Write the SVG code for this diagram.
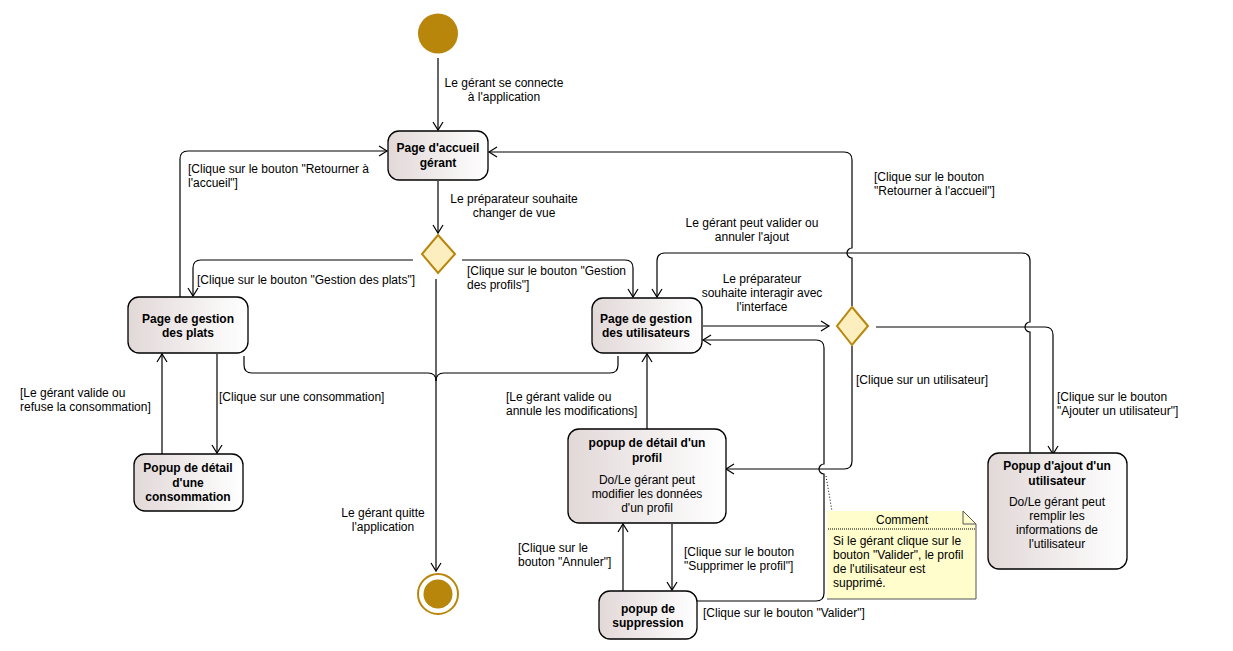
<svg xmlns="http://www.w3.org/2000/svg" width="1233" height="651" viewBox="0 0 1233 651">
<defs>
<linearGradient id="g" x1="0" y1="0" x2="1" y2="0">
<stop offset="0" stop-color="#e2d8d8"/>
<stop offset="1" stop-color="#ffffff"/>
</linearGradient>
<marker id="a" markerUnits="userSpaceOnUse" markerWidth="12" markerHeight="12" viewBox="-10 -6 12 12" refX="0" refY="0" orient="auto">
<path d="M-8,-5 L0,0 L-8,5" fill="none" stroke="#000" stroke-width="1.2"/>
</marker>
</defs>
<style>
text{font-family:"Liberation Sans",Arial,sans-serif;font-size:12px;fill:#000}
.b{font-weight:bold}
.m{text-anchor:middle}
.box{fill:url(#g);stroke:#000;stroke-width:1.3}
.dia{fill:#fdeebf;stroke:#b8860b;stroke-width:2}
.c{fill:none;stroke:#000;stroke-width:1.2}
.ar{marker-end:url(#a)}
</style>
<rect width="1233" height="651" fill="#fff"/>

<g id="connectors">
<path class="c ar" d="M438,58 V130"/>
<path class="c ar" d="M438,181 V233"/>
<path class="c ar" d="M413,260 H201 Q193,260 193,268 V296"/>
<path class="c ar" d="M462,260 H625 Q633,260 633,268 V297"/>
<path class="c ar" d="M436,279 V571"/>
<path class="c" d="M244,356 V365 Q244,373 252,373 H428 Q436,373 436,381"/>
<path class="c" d="M618,356 V365 Q618,373 610,373 H444 Q436,373 436,381"/>
<path class="c ar" d="M180,297 V159 Q180,151 188,151 H387"/>
<path class="c ar" d="M852,306 V258 A5,5 0 0 1 852,248 V160 Q852,152 844,152 H489"/>
<path class="c ar" d="M1030,453 V332 A5,5 0 0 1 1030,322 V261 Q1030,253 1022,253 H665 Q657,253 657,261 V297"/>
<path class="c ar" d="M703,326 H829"/>
<path class="c ar" d="M876,327 H1045 Q1053,327 1053,335 V454"/>
<path class="c ar" d="M852,346 V461 Q852,469 844,469 H726"/>
<path class="c ar" d="M697,601 H816 Q824,601 824,593 V474 A5,5 0 0 1 824,464 V348 Q824,340 816,340 H703"/>
<path class="c ar" d="M647,429 V354"/>
<path class="c ar" d="M672,524 V590"/>
<path class="c ar" d="M623,591 V524"/>
<path class="c ar" d="M217,354 V453"/>
<path class="c ar" d="M162,454 V354"/>
<path d="M826,476 L832,511" fill="none" stroke="#000" stroke-width="1" stroke-dasharray="1,2"/>
</g>

<g id="labels">
<text x="504" y="87" class="m">Le gérant se connecte</text>
<text x="504" y="101" class="m">à l'application</text>
<text x="514" y="203" class="m">Le préparateur souhaite</text>
<text x="514" y="217" class="m">changer de vue</text>
<text x="188" y="173">[Clique sur le bouton "Retourner à</text>
<text x="188" y="187">l'accueil"]</text>
<text x="197" y="284">[Clique sur le bouton "Gestion des plats"]</text>
<text x="467" y="275">[Clique sur le bouton "Gestion</text>
<text x="467" y="289">des profils"]</text>
<text x="752" y="227" class="m">Le gérant peut valider ou</text>
<text x="752" y="241" class="m">annuler l'ajout</text>
<text x="762" y="283" class="m">Le préparateur</text>
<text x="762" y="297" class="m">souhaite interagir avec</text>
<text x="762" y="311" class="m">l'interface</text>
<text x="874" y="181">[Clique sur le bouton</text>
<text x="874" y="195">"Retourner à l'accueil"]</text>
<text x="856" y="384">[Clique sur un utilisateur]</text>
<text x="1057" y="401">[Clique sur le bouton</text>
<text x="1057" y="415">"Ajouter un utilisateur"]</text>
<text x="506" y="401">[Le gérant valide ou</text>
<text x="506" y="415">annule les modifications]</text>
<text x="518" y="552">[Clique sur le</text>
<text x="518" y="566">bouton "Annuler"]</text>
<text x="684" y="556">[Clique sur le bouton</text>
<text x="684" y="570">"Supprimer le profil"]</text>
<text x="703" y="617">[Clique sur le bouton "Valider"]</text>
<text x="219" y="401">[Clique sur une consommation]</text>
<text x="20" y="397">[Le gérant valide ou</text>
<text x="20" y="411">refuse la consommation]</text>
<text x="383" y="517" class="m">Le gérant quitte</text>
<text x="383" y="531" class="m">l'application</text>
</g>

<g id="start">
<circle cx="438" cy="33.5" r="20" fill="#b8860b"/>
</g>

<g id="end">
<circle cx="438" cy="594" r="20" fill="#fff" stroke="#b8860b" stroke-width="2"/>
<circle cx="438" cy="594" r="14.5" fill="#b8860b"/>
</g>

<g id="accueil">
<rect class="box" x="388" y="131" width="100" height="49" rx="11"/>
<text x="438" y="152" class="b m">Page d'accueil</text>
<text x="438" y="167" class="b m">gérant</text>
</g>

<g id="decision1">
<polygon class="dia" points="438,235 455,254 438,273 422,254"/>
</g>

<g id="plats">
<rect class="box" x="128" y="297" width="120" height="56" rx="11"/>
<text x="188" y="323" class="b m">Page de gestion</text>
<text x="188" y="337" class="b m">des plats</text>
</g>

<g id="consommation">
<rect class="box" x="134" y="454" width="109" height="57" rx="11"/>
<text x="188" y="472" class="b m">Popup de détail</text>
<text x="188" y="487" class="b m">d'une</text>
<text x="188" y="501" class="b m">consommation</text>
</g>

<g id="utilisateurs">
<rect class="box" x="592" y="298" width="110" height="55" rx="11"/>
<text x="646" y="323" class="b m">Page de gestion</text>
<text x="646" y="337" class="b m">des utilisateurs</text>
</g>

<g id="decision2">
<polygon class="dia" points="852,307 868,326 852,345 837,326"/>
</g>

<g id="detailProfil">
<rect class="box" x="568" y="429" width="158" height="94" rx="11"/>
<text x="647" y="447" class="b m">popup de détail d'un</text>
<text x="647" y="462" class="b m">profil</text>
<text x="647" y="484" class="m">Do/Le gérant peut</text>
<text x="647" y="498" class="m">modifier les données</text>
<text x="647" y="512" class="m">d'un profil</text>
</g>

<g id="suppression">
<rect class="box" x="599" y="591" width="98" height="48" rx="11"/>
<text x="648" y="613" class="b m">popup de</text>
<text x="648" y="627" class="b m">suppression</text>
</g>

<g id="ajout">
<rect class="box" x="988" y="453" width="139" height="116" rx="11"/>
<text x="1057" y="470" class="b m">Popup d'ajout d'un</text>
<text x="1057" y="485" class="b m">utilisateur</text>
<text x="1057" y="506" class="m">Do/Le gérant peut</text>
<text x="1057" y="520" class="m">remplir les</text>
<text x="1057" y="534" class="m">informations de</text>
<text x="1057" y="548" class="m">l'utilisateur</text>
</g>

<g id="comment">
<polygon points="827,511 963,511 976,524 976,599 827,599" fill="#fffdcc" stroke="none"/>
<path d="M963,511 L976,524 V599 H827" fill="none" stroke="#555" stroke-width="1"/>
<path d="M963,511 V524 H976" fill="none" stroke="#555" stroke-width="1"/>
<path d="M828,529 H975" fill="none" stroke="#000" stroke-width="1" stroke-dasharray="1,1"/>
<text x="902" y="524" class="m">Comment</text>
<text x="833" y="545">Si le gérant clique sur le</text>
<text x="833" y="559">bouton "Valider", le profil</text>
<text x="833" y="573">de l'utilisateur est</text>
<text x="833" y="587">supprimé.</text>
</g>
</svg>
